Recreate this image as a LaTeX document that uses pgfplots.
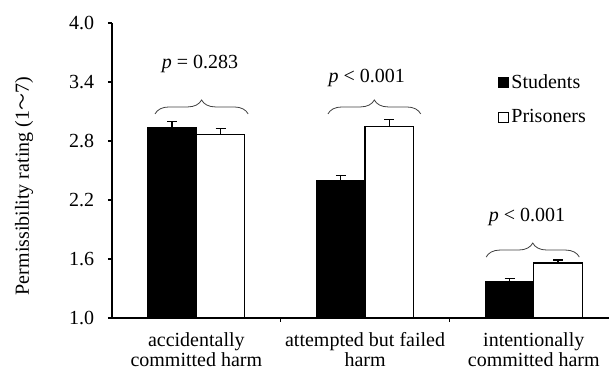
\documentclass[border=0pt]{standalone}
\usepackage{pgfplots}
\pgfplotsset{compat=1.18}
\usepackage{fontspec}
\setmainfont{Liberation Serif}
\newfontfamily\cjk{Noto Sans CJK SC}
\usetikzlibrary{decorations.pathreplacing}
\begin{document}
\fontsize{20}{20}\selectfont
\begin{tikzpicture}
\pgfplotsset{mylegend/.style={legend image code/.code={\draw[##1, line width=1pt] (0pt,-5pt) rectangle (10pt,5pt);}}}
\begin{axis}[
  name=ax,
  scale only axis, width=497pt, height=295pt,
  xmin=0.5, xmax=3.446, ymin=1, ymax=4,
  axis x line*=bottom, axis y line*=left,
  axis line style={-, line width=1.3pt},
  ytick={1.0,1.6,2.2,2.8,3.4,4.0},
  /pgf/number format/assume math mode=true,
  tick align=outside, major tick length=4pt,
  tick style={line width=1.3pt, black},
  xtick={1.5,2.5}, xticklabels={,,},
  extra x ticks={1,2,3},
  extra x tick labels={{accidentally\\committed harm},{attempted but failed\\harm},{intentionally\\committed harm}},
  extra x tick style={major tick length=0pt},
  xticklabel style={align=center, yshift=-8pt},
  yticklabel style={/pgf/number format/fixed, /pgf/number format/fixed zerofill, /pgf/number format/precision=1, xshift=-7pt},
  ylabel={Permissibility rating (1{\cjk\fontsize{17}{17}\selectfont ～}7)},
  y label style={at={(axis description cs:-0.177,0.447)}, anchor=center},
  ybar=0pt, bar width=48.5pt,
  legend style={at={(0.771,0.84)}, anchor=north west, draw=none, fill=none, row sep=14pt, legend cell align=left},
]
\addplot[fill=black, draw=black, line width=1.2pt, mylegend,
  error bars/.cd, y dir=plus, y explicit,
  error bar style={line width=1.3pt, black},
  error mark options={rotate=90, mark size=5pt, line width=1.3pt, black}]
  coordinates {(1,2.94) +- (0,0.06) (2,2.40) +- (0,0.05) (3,1.37) +- (0,0.03)};
\addplot[fill=white, draw=black, line width=1.2pt, mylegend,
  error bars/.cd, y dir=plus, y explicit,
  error bar style={line width=1.3pt, black},
  error mark options={rotate=90, mark size=5pt, line width=1.3pt, black}]
  coordinates {(1,2.87) +- (0,0.06) (2,2.95) +- (0,0.07) (3,1.56) +- (0,0.03)};
\legend{Students, Prisoners}
\draw[decorate, decoration={brace, amplitude=14pt}, line width=0.8pt, black!75] (axis cs:0.755,3.075) -- (axis cs:1.307,3.075);
\draw[decorate, decoration={brace, amplitude=14pt}, line width=0.8pt, black!75] (axis cs:1.78,3.075) -- (axis cs:2.33,3.075);
\draw[decorate, decoration={brace, amplitude=14pt}, line width=0.8pt, black!75] (axis cs:2.718,1.62) -- (axis cs:3.27,1.62);
\node at (axis cs:1.022,3.58) {\textit{p} = 0.283};
\node at (axis cs:2.01,3.44) {\textit{p} < 0.001};
\node at (axis cs:2.96,2.03) {\textit{p} < 0.001};
\end{axis}
\pgfresetboundingbox
\path ([shift={(-112pt,-52pt)}]ax.south west) rectangle ([shift={(0pt,23pt)}]ax.north east);
\end{tikzpicture}
\end{document}
